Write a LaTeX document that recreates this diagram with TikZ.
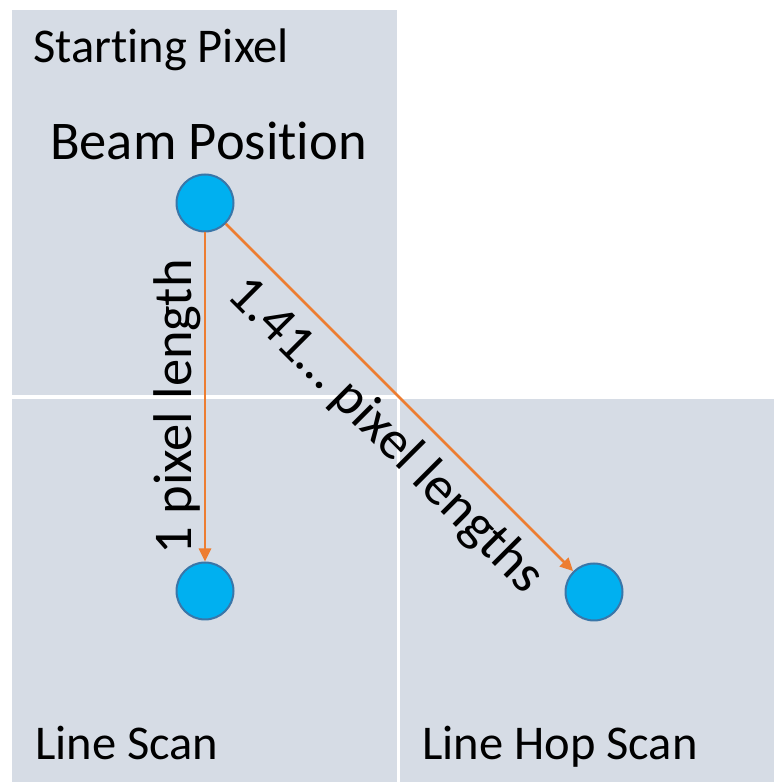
\documentclass[tikz,border=0pt]{standalone}
\usepackage{fontspec}
\setmainfont[Ligatures={NoCommon,NoRare}]{Carlito}
\usetikzlibrary{arrows.meta}
\definecolor{panel}{HTML}{D6DCE5}
\definecolor{dotfill}{HTML}{00B0F0}
\definecolor{dotrim}{HTML}{3A76A8}
\definecolor{arrcol}{HTML}{ED7D31}
\begin{document}
\begin{tikzpicture}[x=1pt,y=1pt,
  beam/.style={circle,fill=dotfill,draw=dotrim,line width=2pt,minimum size=57pt,inner sep=0pt},
  arrowline/.style={draw=arrcol,line width=2.8pt,-{Triangle[length=13pt,width=12pt]}},
  smalllbl/.style={font=\fontsize{48.5}{52}\selectfont,inner sep=0pt,anchor=base west},
  biglbl/.style={font=\fontsize{54.5}{58}\selectfont,inner sep=0pt}]
\useasboundingbox (0,0) rectangle (774,782);
\fill[white] (0,0) rectangle (774,782);
% panels
\fill[panel] (12,772) rectangle (397,387);
\fill[panel] (12,383) rectangle (397,0);
\fill[panel] (400,383) rectangle (774,0);
% texts
\node[smalllbl] (tstart) at (33,719) {Starting Pixel};
\node[biglbl,anchor=base west] (tbeam) at (50,622) {Beam Position};
\node[smalllbl] (tline) at (35,22) {Line Scan};
\node[smalllbl] (thop) at (422,22) {Line Hop Scan};
% beam positions
\node[beam] (start) at (205,579) {};
\node[beam] (line) at (205,191) {};
\node[beam] (hop) at (594,190) {};
% connectors
\draw[arrowline] (start) -- node[biglbl,rotate=90,anchor=south,inner sep=3pt,pos=0.53] {1 pixel length} (line);
\draw[arrowline] (start) -- node[biglbl,sloped,anchor=north,inner ysep=12pt,pos=0.535] {1.41… pixel lengths} (hop);
\end{tikzpicture}
\end{document}
